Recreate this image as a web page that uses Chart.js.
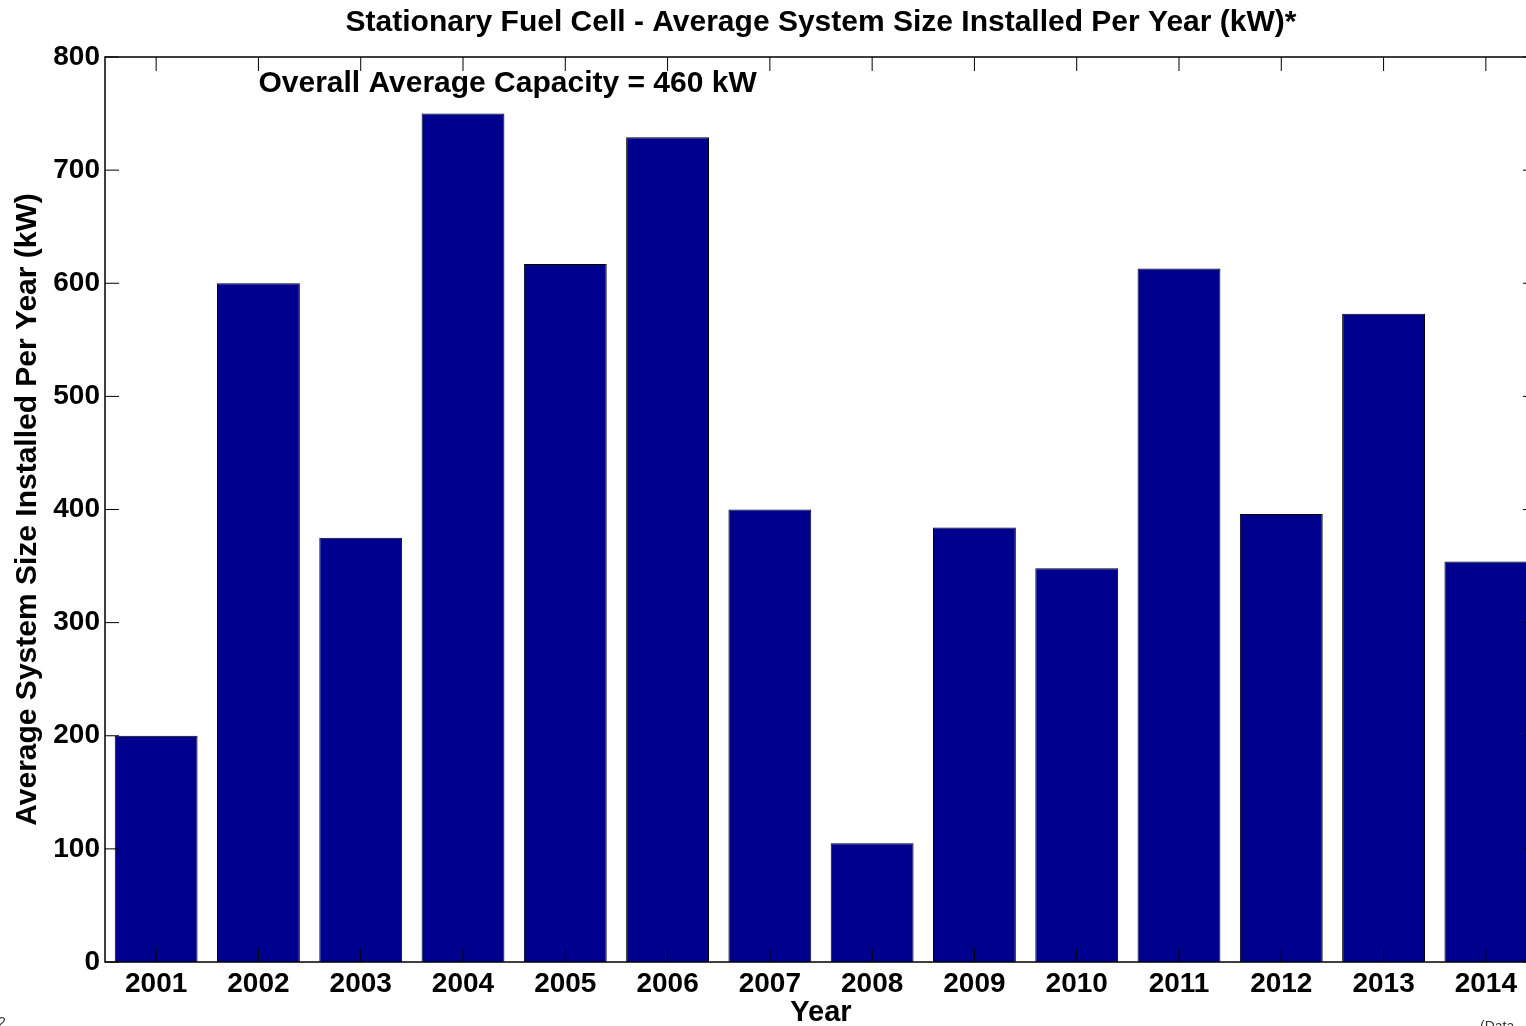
<!DOCTYPE html>
<html>
<head>
<meta charset="utf-8">
<script src="https://cdn.jsdelivr.net/npm/chart.js@4/dist/chart.umd.min.js"></script>
<style>
  html, body { margin: 0; padding: 0; background: #fff; overflow: hidden; }
  #wrap { width: 1526px; height: 1026px; overflow: hidden; position: relative; }
  #box { width: 1545px; height: 1026px; }
</style>
</head>
<body>
<div id="wrap"><div id="box"><canvas id="chart1"></canvas></div></div>
<script>
// datos
const years = ['2001', '2002', '2003', '2004', '2005', '2006', '2007', '2008', '2009', '2010', '2011', '2012', '2013', '2014'];
const avgSize = [200, 600, 375, 750, 617, 729, 400, 105, 384, 348, 613, 396, 573, 354];
const yTicks = [0, 100, 200, 300, 400, 500, 600, 700, 800];
const chartTitle = 'Stationary Fuel Cell - Average System Size Installed Per Year (kW)*';
const noteText = 'Overall Average Capacity = 460 kW';

const FONT = 'Liberation Sans, Arial, Helvetica, sans-serif';

// marco, marcas hacia adentro y título centrado sobre el área del gráfico (estilo MATLAB)
const frameTicks = {
    id: 'frameTicks',
    afterDatasetsDraw(chart) {
        const { ctx, chartArea: a, scales } = chart;
        const x = scales.x, y = scales.y;
        ctx.save();
        ctx.strokeStyle = '#000';
        ctx.lineWidth = 1.5;
        ctx.strokeRect(a.left, a.top, a.right - a.left, a.bottom - a.top);
        ctx.lineWidth = 1;
        ctx.beginPath();
        x.ticks.forEach((t, i) => {
            const px = x.getPixelForTick(i);
            ctx.moveTo(px, a.top); ctx.lineTo(px, a.top + 14);
            ctx.moveTo(px, a.bottom); ctx.lineTo(px, a.bottom - 14);
        });
        yTicks.forEach((v) => {
            const py = y.getPixelForValue(v);
            ctx.moveTo(a.left, py); ctx.lineTo(a.left + 14, py);
            ctx.moveTo(a.right, py); ctx.lineTo(a.right - 14, py);
        });
        ctx.stroke();

        ctx.fillStyle = '#000';
        ctx.font = 'bold 30px ' + FONT;
        ctx.textBaseline = 'middle';

        // título
        ctx.textAlign = 'center';
        ctx.fillText(chartTitle, (a.left + a.right) / 2, 23);

        // texto de la capacidad media
        ctx.textAlign = 'left';
        ctx.fillText(noteText, x.getPixelForValue(1), y.getPixelForValue(776));

        // restos de texto recortado en las esquinas
        ctx.font = '14px ' + FONT;
        ctx.fillStyle = '#333';
        ctx.textBaseline = 'top';
        ctx.fillText('2', -2, 1016);
        ctx.fillText('(Data', 1480, 1020);
        ctx.restore();
    },
};

const ctx = document.getElementById('chart1').getContext('2d');
new Chart(ctx, {
    type: 'bar',
    data: {
        labels: years,
        datasets: [
            {
                data: avgSize,
                backgroundColor: '#00008f',
                borderColor: '#000',
                borderWidth: 1,
                barPercentage: 0.81,
                categoryPercentage: 1.0,
            },
        ],
    },
    options: {
        responsive: true,
        maintainAspectRatio: false,
        animation: false,
        layout: { padding: { left: 0, right: 8, top: 57, bottom: 0 } },
        plugins: {
            legend: { display: false },
            tooltip: { enabled: false },
            title: { display: false },
        },
        scales: {
            x: {
                offset: true,
                grid: { display: false, drawTicks: false },
                border: { display: false },
                ticks: {
                    color: '#000',
                    padding: 5,
                    maxRotation: 0,
                    font: { family: FONT, size: 28, weight: 'bold' },
                },
                title: {
                    display: true,
                    text: 'Year',
                    color: '#000',
                    padding: { top: 0, bottom: -1 },
                    font: { family: FONT, size: 29, weight: 'bold', lineHeight: 1.0 },
                },
                afterFit: (s) => { s.height = 64; },
            },
            y: {
                min: 0,
                max: 800,
                grid: { display: false, drawTicks: false },
                border: { display: false },
                afterBuildTicks: (s) => { s.ticks = yTicks.map((v) => ({ value: v })); },
                ticks: {
                    color: '#000',
                    padding: 5,
                    font: { family: FONT, size: 28, weight: 'bold' },
                },
                title: {
                    display: true,
                    text: 'Average System Size Installed Per Year (kW)',
                    color: '#000',
                    padding: { top: 13, bottom: 0 },
                    font: { family: FONT, size: 30, weight: 'bold', lineHeight: 1.0 },
                },
                afterFit: (s) => { s.width = 105; },
            },
        },
    },
    plugins: [frameTicks],
});
</script>
</body>
</html>
